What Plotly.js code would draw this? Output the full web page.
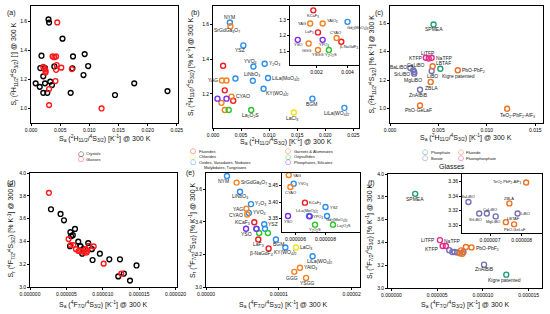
<!DOCTYPE html>
<html><head><meta charset="utf-8">
<script src="https://cdn.plot.ly/plotly-3.0.1.min.js"></script>
<style>html,body{margin:0;padding:0;background:#fff}#chart{width:550px;height:314px}</style>
</head><body><div id="chart"></div>
<script>
// ---------------- DATA ----------------
// Crystals, 2H11/2 / 4S3/2 thermal coupling (panels a, b)
const hCrystalNames = ['NYM','SrGdGa3O7','YSZ','KCaF3','YVO4','Y2O3','YAG','YAlO3','Gd2(MoO4)3','LiNbO3','LiLa(MoO4)2','LaF3','KY(WO4)2','YSO','YPO4','CYAO','β-NaGdF4','GGG','YSGG','Y2O2S','La2O2S','LaCl3','BGM','LiLa(WO4)2'];
const hCrystalCat   = ['Ox','Ga','Ox','F','Ox','Ox','Ga','Ga','Ox','Ox','Ox','F','Ox','Ph','Ph','Ga','F','Ga','Ga','OS','OS','Cl','Ox','Ox'];
const hCrystalSa    = [0.0030,0.0031,0.0054,0.0018,0.0072,0.0092,0.0016,0.0024,0.0040,0.0071,0.0098,0.0021,0.0090,0.0008,0.0024,0.0033,0.0036,0.0015,0.0021,0.0028,0.0068,0.0144,0.0177,0.0234];
const hCrystalSr    = [1.611,1.589,1.479,1.362,1.357,1.373,1.277,1.277,1.288,1.275,1.291,1.220,1.229,1.172,1.172,1.184,1.160,1.148,1.107,1.107,1.107,1.092,1.172,1.119];

// Glasses, 2H11/2 / 4S3/2 (panels a, c)
const hGlassNames = ['SPMEA','KTFP','LiTFP','NaTFP','LBTAF','BaLiBO','CaLiBO','SrLiBO','MgLiBO','LiBO','Kigre patented','PbO-PbF2','ZBLA','ZnAlBiB','PbO-GeLaF','TeO2-PbF2-AlF3'];
const hGlassCat   = ['P','FP','FP','FP','Fl','B','B','B','B','B','P','Fl','Fl','B','Fl','Fl'];
const hGlassSa    = [0.0045,0.0037,0.0040,0.0043,0.0044,0.0021,0.0024,0.0025,0.0025,0.0043,0.0052,0.0070,0.0042,0.0031,0.0031,0.0121];
const hGlassSr    = [1.590,1.357,1.352,1.357,1.298,1.285,1.270,1.258,1.246,1.265,1.280,1.270,1.188,1.133,1.023,1.000];

// Crystals, 4F7/2 / 4S3/2 (panels d, e)
const fCrystalNames = ['NYM','SrGdGa3O7','LiNbO3','Y2O3','YAG','YVO4','CYAO','KCaF3','YSZ','YSO','LiLa(MoO4)2','YPO4','Gd2(MoO4)3','Y2O2S','La2O2S','LaF3','BGM','β-NaGdF4','KY(WO4)2','LaCl3','LiLa(WO4)2','YAlO3','GGG','YSGG'];
const fCrystalCat   = ['Ox','Ga','Ox','Ox','Ga','Ox','Ga','F','Ox','Ph','Ox','Ph','Ox','OS','OS','F','Ox','F','Ox','Cl','Ox','Ga','Ga','Ga'];
const fCrystalSa    = [2.88e-6,4.2e-6,4.67e-6,6.18e-6,5.55e-6,5.88e-6,5.66e-6,6.63e-6,8.0e-6,5.5e-6,6.9e-6,6.95e-6,8.1e-6,7.3e-6,8.5e-6,7.18e-6,9.6e-6,8.6e-6,1.09e-5,1.236e-5,1.464e-5,1.29e-5,1.213e-5,1.374e-5];
const fCrystalSr    = [3.682,3.641,3.585,3.509,3.481,3.455,3.445,3.398,3.385,3.358,3.358,3.357,3.358,3.332,3.332,3.292,3.292,3.237,3.243,3.243,3.189,3.118,3.093,3.056];

// Glasses, 4F7/2 / 4S3/2 (panels d, f)
const fGlassNames = hGlassNames;
const fGlassCat   = hGlassCat;
const fGlassSa    = [2.6e-6,5.6e-6,5.3e-6,5.95e-6,7.5e-6,6.32e-6,6.9e-6,6.66e-6,7.18e-6,7.87e-6,1.255e-5,8.75e-6,7.61e-6,1.012e-5,7.76e-6,8.14e-6];
const fGlassSr    = [3.826,3.368,3.42,3.368,3.304,3.332,3.316,3.316,3.312,3.316,3.117,3.356,3.330,3.205,3.301,3.359];

// categories & legend labels
const crystalCatKeys  = ['F','Cl','Ox','Ga','OS','Ph'];
const crystalCatNames = ['Fluorides','Chlorides','Oxides, Vanadates, Niobates','Garnets & Aluminates','Oxysulfides','Phosphates, Silicates'];
const glassCatKeys    = ['P','B','Fl','FP'];
const glassCatNames   = ['Phosphate','Borate','Fluoride','Fluorophosphate'];
const groupNames      = ['Crystals','Glasses'];
const insetTicksE     = [6e-6, 8e-6];

// ---------------- STYLE ----------------
const W = 550, H = 314;
const FONT = 'Liberation Sans';
const crystalColors = {F:'#f01c1c', Cl:'#f2e21a', Ox:'#2b8ef0', Ga:'#f5821f', OS:'#2ac62a', Ph:'#7a2ee8'};
const glassColors   = {P:'#1b9e77', B:'#7570b3', Fl:'#f0701c', FP:'#e7298a'};
const groupColors   = ['#000000','#ff1a1a'];
const fx = p => p / W, fy = p => 1 - p / H;

const axBase = {showline:true, linecolor:'#000', linewidth:0.8, mirror:true, ticks:'outside', ticklen:2,
  tickwidth:0.7, tickcolor:'#000', showgrid:false, zeroline:false, automargin:false, fixedrange:true,
  tickfont:{family:FONT, size:5, color:'#000'}};

const layout = {width:W, height:H, margin:{l:0,r:0,t:0,b:0}, showlegend:false,
  font:{family:FONT, size:5, color:'#111'},
  paper_bgcolor:'#fff', plot_bgcolor:'#fff', annotations:[]};
const ann = layout.annotations;

function setAxes(n, box, xr, yr, xt, yt) {
  const id = n === 1 ? '' : String(n);
  layout['xaxis'+id] = Object.assign({}, axBase, {domain:[fx(box[0]), fx(box[1])], range:xr, anchor:'y'+id}, xt);
  layout['yaxis'+id] = Object.assign({}, axBase, {domain:[fy(box[3]), fy(box[2])], range:yr, anchor:'x'+id}, yt);
}
// box = [left, right, top, bottom] in px
setAxes(1, [31,178,6,123],  [0,0.0252],   [0.9,1.703],  {dtick:0.005, tickformat:'.3f'}, {dtick:0.2, tickformat:'.1f'});
setAxes(2, [213,359,6,128], [0,0.026],    [1.003,1.706],{dtick:0.005, tickformat:'.3f'}, {dtick:0.2, tickformat:'.1f'});
setAxes(3, [290,359,6,65],  [0.0003,0.00474],[1.01,1.39],{dtick:0.002, tickformat:'.3f'}, {dtick:0.1, tickformat:'.1f'});
setAxes(4, [390,543,6,123], [0,0.0158],   [0.9,1.72],   {dtick:0.005, tickformat:'.3f'}, {dtick:0.2, tickformat:'.1f'});
setAxes(5, [30,177,173,287],[0,2.02e-5],  [3.0,4.0],    {dtick:5e-6, tickformat:'.6f'},  {dtick:0.2, tickformat:'.1f'});
setAxes(6, [206,360,173,287],[0,2.115e-5],[3.0,3.7],    {dtick:1e-5, tickformat:'.5f'},  {dtick:0.2, tickformat:'.1f'});
setAxes(7, [282,360,173,232],[5.1e-6,1.03e-5],[3.31,3.487],{tickvals:insetTicksE, tickformat:'.6f'}, {dtick:0.05, tickformat:'.2f'});
setAxes(8, [388,542,174,288],[-3.7e-7,1.645e-5],[3.0,4.0],{dtick:5e-6, tickformat:'.6f'}, {dtick:0.2, tickformat:'.1f'});
setAxes(9, [462,542,174,233],[6.117e-6,8.64e-6],[3.289,3.3707],{dtick:1e-6, tickformat:'.6f'}, {dtick:0.02, tickformat:'.2f'});

const traces = [];
function addPts(xs, ys, color, n, size) {
  const id = n === 1 ? '' : String(n);
  traces.push({type:'scatter', mode:'markers', x:xs, y:ys, xaxis:'x'+id, yaxis:'y'+id, hoverinfo:'skip', cliponaxis:true,
    marker:{symbol:'circle-open', size:size, color:color, line:{width:1.4, color:color}}});
}
const pick = (arr, cats, key) => arr.filter((_, i) => cats[i] === key);

// (a) and (d): crystals vs glasses
addPts(hCrystalSa, hCrystalSr, groupColors[0], 1, 4.8);
addPts(hGlassSa, hGlassSr, groupColors[1], 1, 4.8);
addPts(fCrystalSa, fCrystalSr, groupColors[0], 5, 4.8);
addPts(fGlassSa, fGlassSr, groupColors[1], 5, 4.8);
// (b), (e) with insets: crystals by family
crystalCatKeys.forEach(k => {
  [2,3].forEach(n => addPts(pick(hCrystalSa,hCrystalCat,k), pick(hCrystalSr,hCrystalCat,k), crystalColors[k], n, 5));
  [6,7].forEach(n => addPts(pick(fCrystalSa,fCrystalCat,k), pick(fCrystalSr,fCrystalCat,k), crystalColors[k], n, 5));
});
// (c), (f) with inset: glasses by family
glassCatKeys.forEach(k => {
  addPts(pick(hGlassSa,hGlassCat,k), pick(hGlassSr,hGlassCat,k), glassColors[k], 4, 5);
  [8,9].forEach(n => addPts(pick(fGlassSa,fGlassCat,k), pick(fGlassSr,fGlassCat,k), glassColors[k], n, 5));
});

// ---------------- POINT LABELS ----------------
const fmt = s => s.replace(/([A-Za-z\)])(\d+)/g, '$1<sub>$2</sub>');
function addLabels(specs, names, xs, ys, n, size) {
  const id = n === 1 ? '' : String(n);
  specs.forEach(([nm, dx, dy, anc]) => {
    const i = names.indexOf(nm);
    if (i < 0) return;
    ann.push({x:xs[i], y:ys[i], xref:'x'+id, yref:'y'+id, text:fmt(nm), showarrow:false,
      xanchor:anc, yanchor:'middle', xshift:dx, yshift:-dy, borderpad:0,
      font:{family:FONT, size:size, color:'#222'}});
  });
}
addLabels([['NYM',0,-5.3,'center'],['SrGdGa3O7',-3.3,4.5,'center'],['YSZ',-3.3,5,'center'],['YVO4',-3.3,-5,'center'],
  ['Y2O3',3,0,'left'],['YAG',-3,0,'right'],['LiNbO3',-1,-6,'center'],['LiLa(MoO4)2',3,0,'left'],['KY(WO4)2',1,5,'left'],
  ['CYAO',3,-1,'left'],['La2O2S',-1,5.7,'center'],['LaCl3',-1.7,5.7,'center'],['BGM',-1,5.3,'center'],['LiLa(WO4)2',-8,6,'center']],
  hCrystalNames, hCrystalSa, hCrystalSr, 2, 5);
addLabels([['KCaF3',-0.7,5.7,'center'],['YAG',-3,0,'right'],['YAlO3',3,-2.3,'left'],['Gd2(MoO4)3',-2,5.7,'left'],
  ['LaF3',-3,0,'right'],['CYAO',-1,-5,'center'],['YSO',0,5,'center'],['YPO4',1,5,'center'],['β-NaGdF4',-2.3,5,'left'],
  ['GGG',-2.3,6.5,'center'],['YSGG',0,5,'center'],['Y2O2S',2,5,'center']],
  hCrystalNames, hCrystalSa, hCrystalSr, 3, 4);
addLabels([['SPMEA',0,4.7,'center'],['LiTFP',-1,-5.7,'center'],['KTFP',-3,0,'right'],['NaTFP',3,0,'left'],
  ['LBTAF',2,-3.7,'left'],['BaLiBO',-2.5,-1,'right'],['CaLiBO',2.7,-5.7,'center'],['SrLiBO',-3,2,'right'],
  ['MgLiBO',-1.3,6.3,'center'],['LiBO',1,5.3,'center'],['Kigre patented',1,7.3,'left'],['PbO-PbF2',3,0,'left'],
  ['ZBLA',1.3,5.7,'center'],['ZnAlBiB',-1.3,5,'center'],['PbO-GeLaF',-1.7,4.7,'center'],['TeO2-PbF2-AlF3',10,6.7,'center']],
  hGlassNames, hGlassSa, hGlassSr, 4, 5);
addLabels([['NYM',-3.3,5,'center'],['SrGdGa3O7',3,0,'left'],['LiNbO3',0,5,'center'],['Y2O3',3,-0.7,'left'],
  ['YAG',-2.7,0,'right'],['YVO4',3,0,'left'],['CYAO',-3,0,'right'],['KCaF3',-3,0,'right'],['YSZ',2.7,0,'left'],
  ['YSO',0,5,'center'],['LaF3',0,5,'center'],['BGM',2.3,5,'center'],['β-NaGdF4',-6.7,5,'center'],['KY(WO4)2',0,4.7,'center'],
  ['LaCl3',3,0,'left'],['LiLa(WO4)2',6.7,5,'center'],['YAlO3',3,0,'left'],['GGG',-2.3,5.7,'center'],['YSGG',1.7,5,'center']],
  fCrystalNames, fCrystalSa, fCrystalSr, 6, 5);
addLabels([['YAG',3.5,0,'left'],['YVO4',3,0,'left'],['CYAO',0,5,'center'],['KCaF3',3.5,0,'left'],['YSZ',3,0,'left'],
  ['LiLa(MoO4)2',-2.3,-5,'center'],['YPO4',2.3,0.7,'left'],['YSO',0,5.7,'center'],['Gd2(MoO4)3',-1.7,4,'left'],
  ['Y2O2S',0,5,'center'],['La2O2S',2.7,1,'left']],
  fCrystalNames, fCrystalSa, fCrystalSr, 7, 4);
addLabels([['SPMEA',0,5.3,'center'],['LiTFP',-4,0,'right'],['KTFP',-4,2.7,'right'],['NaTFP',6.3,-5,'center'],
  ['PbO-PbF2',3,1,'left'],['ZnAlBiB',0,4.7,'center'],['Kigre patented',-1.7,5.7,'center']],
  fGlassNames, fGlassSa, fGlassSr, 8, 5);
addLabels([['TeO2-PbF2-AlF3',-4,0,'right'],['BaLiBO',0,-5,'center'],['ZBLA',0,-5,'center'],['CaLiBO',3.3,-4,'center'],
  ['SrLiBO',-3.7,6,'center'],['MgLiBO',-2.3,4.7,'center'],['LiBO',2.7,0,'left'],['LBTAF',-0.3,-3.3,'left'],['PbO-GeLaF',1,5,'center']],
  fGlassNames, fGlassSa, fGlassSr, 9, 4);

// ---------------- PAPER TEXT ----------------
function ptext(px, py, text, size, xanchor, extra) {
  ann.push(Object.assign({x:fx(px), y:fy(py), xref:'paper', yref:'paper', text:text, showarrow:false,
    xanchor:xanchor, yanchor:'middle', borderpad:0, font:{family:FONT, size:size, color:'#111'}}, extra || {}));
}
function legendItem(px, py, color, label) {
  ann.push({x:fx(px), y:fy(py), xref:'paper', yref:'paper', text:'<b>○</b>', showarrow:false, xanchor:'center',
    yanchor:'middle', borderpad:0, font:{family:'DejaVu Sans', size:7, color:color}});
  ptext(px + 4.5, py, label, 4, 'left');
}
// panel letters
[['(a)',11,12.7],['(b)',195.5,12.7],['(c)',379,12.7],['(d)',11,182.7],['(e)',190,172.7],['(f)',371,182.5]]
  .forEach(([t, x, y]) => ptext(x, y, t, 7, 'center'));

// axis titles
const tH = '(<sup>2</sup>H<sub>11/2</sub>/<sup>4</sup>S<sub>3/2</sub>)';
const tF = '(<sup>4</sup>F<sub>7/2</sub>/<sup>4</sup>S<sub>3/2</sub>)';
const xTitleH = 'S<sub>a</sub> ' + tH + ' [K<sup>-1</sup>] @ 300 K';
const xTitleF = 'S<sub>a</sub> ' + tF + ' [K<sup>-1</sup>] @ 300 K';
const yTitleA = 'S<sub>r</sub> ' + tH + ' [<sup>-</sup>] @ 300 K';
const yTitleH = 'S<sub>r</sub> ' + tH + ' [% K<sup>-1</sup>] @ 300 K';
const yTitleF = 'S<sub>r</sub> ' + tF + ' [% K<sup>-1</sup>] @ 300 K';
ptext(104.5, 138.3, xTitleH, 7, 'center');
ptext(286, 141.7, xTitleH, 7, 'center');
ptext(466, 137, xTitleH, 7, 'center');
ptext(103.5, 304, xTitleF, 7, 'center');
ptext(283, 304.3, xTitleF, 7, 'center');
ptext(465, 304, xTitleF, 7, 'center');
ptext(14, 64.5, yTitleA, 7, 'center', {textangle:-90});
ptext(190, 67, yTitleH, 7, 'center', {textangle:-90});
ptext(372, 64.5, yTitleH, 7, 'center', {textangle:-90});
ptext(11.5, 230, yTitleF, 7, 'center', {textangle:-90});
ptext(193, 230, yTitleF, 7, 'center', {textangle:-90});
ptext(370, 231, yTitleF, 7, 'center', {textangle:-90});

// legends
legendItem(80.5, 153.5, groupColors[0], groupNames[0]);
legendItem(80.5, 159.2, groupColors[1], groupNames[1]);
legendItem(193.3, 151, crystalColors.F, crystalCatNames[0]);
legendItem(193.3, 156.7, crystalColors.Cl, crystalCatNames[1]);
legendItem(193.3, 162.3, crystalColors.Ox, crystalCatNames[2]);
ptext(202.5, 167.8, 'Molybdates, Tungstates', 4, 'left');
legendItem(288.3, 151, crystalColors.Ga, crystalCatNames[3]);
legendItem(288.3, 156.7, crystalColors.OS, crystalCatNames[4]);
legendItem(288.3, 162.3, crystalColors.Ph, crystalCatNames[5]);
legendItem(425, 152.3, glassColors.P, glassCatNames[0]);
legendItem(425, 158.3, glassColors.B, glassCatNames[1]);
legendItem(460.7, 152.3, glassColors.Fl, glassCatNames[2]);
legendItem(460.7, 158.3, glassColors.FP, glassCatNames[3]);
ptext(452, 166, 'Glasses', 7, 'center');

Plotly.newPlot('chart', traces, layout, {displayModeBar:false});
</script></body></html>
